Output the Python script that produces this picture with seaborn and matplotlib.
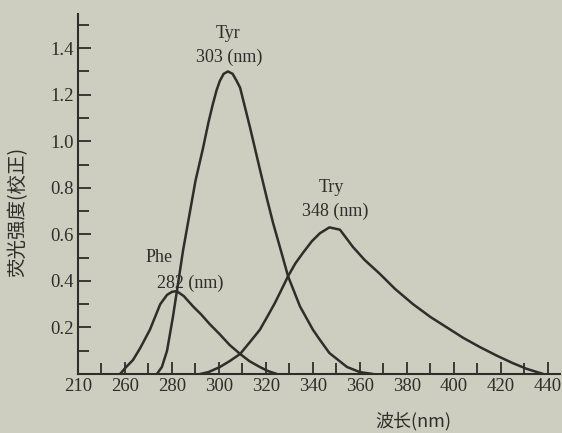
import matplotlib
matplotlib.use("Agg")
import matplotlib.pyplot as plt
import numpy as np
import pandas as pd
import seaborn as sns

# Fluorescence emission spectra (corrected) of the aromatic amino acids
phe_nm = [257.9, 260.5, 263.4, 266.4, 270.6, 273.0, 275.0, 277.9, 280.0, 282.0,
          285.0, 289.0, 292.5, 296.0, 300.4, 304.5, 309.0, 313.0, 317.4, 321.0, 324.7]
phe_val = [0.0, 0.03, 0.06, 0.11, 0.19, 0.25, 0.30, 0.34, 0.353, 0.356,
           0.335, 0.29, 0.255, 0.215, 0.17, 0.125, 0.086, 0.055, 0.03, 0.012, 0.0]

tyr_nm = [273.6, 275.7, 277.9, 280.4, 282.6, 284.7, 287.7, 290.0, 293.2, 295.5,
          297.4, 299.0, 300.4, 302.0, 303.8, 305.8, 307.5, 309.0, 313.2, 317.4,
          320.5, 323.0, 327.2, 329.4, 334.5, 340.0, 343.0, 347.0, 354.5, 360.0, 365.5]
tyr_val = [0.0, 0.03, 0.10, 0.245, 0.39, 0.53, 0.70, 0.83, 0.97, 1.08,
           1.16, 1.22, 1.26, 1.29, 1.30, 1.29, 1.26, 1.23, 1.06, 0.88,
           0.75, 0.65, 0.50, 0.42, 0.29, 0.19, 0.146, 0.09, 0.03, 0.008, 0.0]

try_nm = [292.0, 295.5, 300.4, 304.5, 309.0, 313.0, 317.4, 320.5, 323.8, 326.5,
          329.4, 332.5, 335.7, 339.5, 343.0, 347.0, 351.5, 357.0, 362.0, 368.5,
          375.0, 382.6, 390.0, 397.0, 404.0, 411.0, 418.0, 425.0, 431.0, 438.0]
try_val = [0.0, 0.008, 0.03, 0.055, 0.086, 0.135, 0.19, 0.245, 0.305, 0.36,
           0.42, 0.475, 0.52, 0.57, 0.605, 0.63, 0.62, 0.546, 0.49, 0.43,
           0.365, 0.30, 0.245, 0.20, 0.155, 0.116, 0.08, 0.047, 0.022, 0.0]

x_major = [240, 260, 280, 300, 320, 340, 360, 380, 400, 420, 440]
x_labels = ["210", "260", "280", "300", "320", "340", "360", "380", "400", "420", "440"]
y_major = [0.2, 0.4, 0.6, 0.8, 1.0, 1.2, 1.4]
y_labels = ["0.2", "0.4", "0.6", "0.8", "1.0", "1.2", "1.4"]

peak_labels = [("Tyr", "303 (nm)", 303.8, 1.465, 304.5, 1.36),
               ("Try", "348 (nm)", 348.0, 0.80, 349.5, 0.70),
               ("Phe", "282 (nm)", 274.5, 0.50, 287.6, 0.39)]

df = pd.concat([
    pd.DataFrame({"nm": phe_nm, "val": phe_val, "aa": "Phe"}),
    pd.DataFrame({"nm": tyr_nm, "val": tyr_val, "aa": "Tyr"}),
    pd.DataFrame({"nm": try_nm, "val": try_val, "aa": "Try"}),
])

sns.set_theme(style="ticks")
paper = "#cdcdc0"
ink = "#2e2e2a"
plt.rcParams["font.family"] = ["Liberation Serif", "Noto Sans CJK SC"]

fig = plt.figure(figsize=(5.62, 4.33), dpi=100, facecolor=paper)
ax = fig.add_axes([0.1388, 0.1363, 0.857, 0.8314])
ax.set_facecolor(paper)

sns.lineplot(data=df, x="nm", y="val", units="aa", estimator=None, sort=False,
             color=ink, linewidth=1.8, ax=ax, legend=False)

ax.set_xlim(240, 445)
ax.set_ylim(0, 1.547)
sns.despine(ax=ax, top=True, right=True)
for s in ("left", "bottom"):
    ax.spines[s].set_color(ink)
    ax.spines[s].set_linewidth(1.5)

ax.set_xticks(x_major)
ax.set_xticklabels(x_labels)
ax.set_xticks(np.arange(250, 441, 10), minor=True)
ax.set_yticks(y_major)
ax.set_yticklabels(y_labels)
ax.set_yticks(np.arange(0.1, 1.51, 0.1), minor=True)
ax.tick_params(axis="both", which="both", direction="in", color=ink, width=1.3,
               labelsize=13.5, labelcolor=ink)
ax.tick_params(axis="both", which="major", length=9, pad=3)
ax.tick_params(axis="both", which="minor", length=8)

ax.set_xlabel("")
ax.set_ylabel("")
fig.text(0.735, 0.028, "波长(nm)", ha="center", va="center", fontsize=13,
         color=ink, family=["Noto Sans CJK SC", "DejaVu Sans"])
fig.text(0.032, 0.51, "荧光强度(校正)", ha="center", va="center", rotation=90,
         fontsize=14, color=ink, family=["Noto Sans CJK SC", "DejaVu Sans"])

for name, peak, nx, ny, px, py in peak_labels:
    ax.text(nx, ny, name, ha="center", va="center", fontsize=13, color=ink)
    ax.text(px, py, peak, ha="center", va="center", fontsize=13, color=ink)

fig.savefig("out.png", dpi=100, facecolor=paper)
